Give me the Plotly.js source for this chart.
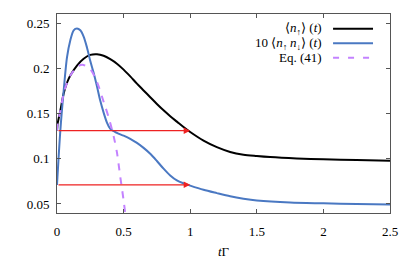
<!DOCTYPE html>
<html>
<head>
<meta charset="utf-8">
<script src="https://cdn.plot.ly/plotly-3.0.1.min.js"></script>
<style>html,body{margin:0;padding:0;background:#fff;}#chart{width:416px;height:260px;}</style>
</head>
<body>
<div id="chart"></div>
<script>
// ---- data ----
const nUpT = [0, 0.005, 0.025, 0.05, 0.075, 0.1, 0.15, 0.2, 0.25, 0.3, 0.35, 0.4, 0.45, 0.5, 0.55, 0.6, 0.65, 0.7, 0.75, 0.8, 0.85, 0.9, 0.95, 1.0, 1.1, 1.2, 1.3, 1.4, 1.5, 1.6, 1.8, 2.0, 2.25, 2.5];
const nUpY = [0.131, 0.139, 0.153, 0.172, 0.184, 0.192, 0.203, 0.2105, 0.2148, 0.2155, 0.2138, 0.2100, 0.2050, 0.1985, 0.1910, 0.1830, 0.1755, 0.1680, 0.1605, 0.1535, 0.1470, 0.1410, 0.1350, 0.1295, 0.1200, 0.1128, 0.1075, 0.1045, 0.1030, 0.1018, 0.1003, 0.0993, 0.0985, 0.0978];

const dblT = [0, 0.025, 0.05, 0.075, 0.1, 0.125, 0.15, 0.175, 0.2, 0.225, 0.25, 0.275, 0.3, 0.325, 0.35, 0.375, 0.4, 0.45, 0.5, 0.55, 0.6, 0.65, 0.7, 0.75, 0.8, 0.85, 0.9, 0.95, 1.0, 1.1, 1.2, 1.3, 1.4, 1.5, 1.75, 2.0, 2.25, 2.5];
const dblY = [0.071, 0.131, 0.175, 0.212, 0.231, 0.242, 0.244, 0.242, 0.235, 0.223, 0.208, 0.195, 0.180, 0.164, 0.151, 0.140, 0.133, 0.1285, 0.1255, 0.122, 0.1175, 0.112, 0.1055, 0.0975, 0.089, 0.0815, 0.0760, 0.0728, 0.0703, 0.0657, 0.0620, 0.0585, 0.0558, 0.0538, 0.0515, 0.0507, 0.0500, 0.0495];

const eqT = [0, 0.005, 0.025, 0.05, 0.075, 0.1, 0.15, 0.19, 0.25, 0.3, 0.35, 0.387, 0.425, 0.45, 0.475, 0.5, 0.52];
const eqY = [0.131, 0.139, 0.153, 0.172, 0.184, 0.192, 0.2015, 0.204, 0.199, 0.185, 0.163, 0.146, 0.125, 0.107, 0.080, 0.054, 0.030];

const arrowLevels = [0.131, 0.0711];
const arrowFrom = 0;
const arrowTo = 1;

const xTicks = [0, 0.5, 1, 1.5, 2, 2.5];
const xTickText = ['0', '0.5', '1', '1.5', '2', '2.5'];
const yTicks = [0.05, 0.1, 0.15, 0.2, 0.25];
const yTickText = ['0.05', '0.1', '0.15', '0.2', '0.25'];

const seriesNames = ['⟨<i>n</i><sub>↑</sub>⟩ (<i>t</i>)', '10 ⟨<i>n</i><sub>↑</sub>\u2009<i>n</i><sub>↓</sub>⟩ (<i>t</i>)', 'Eq. (41)'];
const seriesColors = ['#000000', '#4a78c2', '#c382ff'];

// ---- figure ----
const FONT = 'Liberation Serif';
const traces = [
  {x: nUpT, y: nUpY, mode: 'lines', line: {color: seriesColors[0], width: 2, shape: 'spline', smoothing: 0.8}, name: seriesNames[0], hoverinfo: 'skip'},
  {x: dblT, y: dblY, mode: 'lines', line: {color: seriesColors[1], width: 2, shape: 'spline', smoothing: 0.8}, name: seriesNames[1], hoverinfo: 'skip'},
  {x: eqT, y: eqY, mode: 'lines', line: {color: seriesColors[2], width: 2, dash: '7px,7px', shape: 'spline', smoothing: 0.8}, name: seriesNames[2], hoverinfo: 'skip'}
];

const annotations = arrowLevels.map(v => ({
  x: arrowTo, y: v, ax: arrowFrom, ay: v, xref: 'x', yref: 'y', axref: 'x', ayref: 'y',
  text: '', showarrow: true, arrowhead: 2, arrowsize: 1, arrowwidth: 1.3, arrowcolor: '#ee2222', standoff: 0
}));

// manual legend (text right-aligned, sample line on the right)
const legY = [0.926, 0.853, 0.780];
const shapes = [];
seriesNames.forEach((nm, i) => {
  annotations.push({xref: 'paper', yref: 'paper', x: 0.802, y: legY[i], xanchor: 'right', yanchor: 'middle',
    text: nm, showarrow: false, font: {family: FONT, size: 13, color: '#000'}});
  shapes.push({type: 'line', xref: 'paper', yref: 'paper', x0: 0.829, x1: 0.949, y0: legY[i], y1: legY[i],
    line: {color: seriesColors[i], width: 2, dash: i === 2 ? '6px,9px' : 'solid'}});
});

const axisCommon = {
  showgrid: false, zeroline: false, showline: true, linecolor: '#555', linewidth: 1,
  mirror: 'ticks', ticks: 'inside', ticklen: 4, tickcolor: '#555', tickwidth: 1,
  tickfont: {family: FONT, size: 13, color: '#000'}
};

const layout = {
  width: 416, height: 260,
  margin: {l: 57, r: 26, t: 14, b: 47},
  paper_bgcolor: '#fff', plot_bgcolor: '#fff',
  font: {family: FONT, size: 13, color: '#000'},
  showlegend: false,
  xaxis: Object.assign({}, axisCommon, {range: [0, 2.5], tickvals: xTicks, ticktext: xTickText, ticklabelstandoff: 6,
    title: {text: '<i>t</i>Γ', font: {family: FONT, size: 13, color: '#000'}, standoff: 9}}),
  yaxis: Object.assign({}, axisCommon, {range: [0.04, 0.26], tickvals: yTicks, ticktext: yTickText, ticklabelstandoff: 4}),
  annotations: annotations,
  shapes: shapes
};

Plotly.newPlot('chart', traces, layout, {staticPlot: true, displayModeBar: false});
</script>
</body>
</html>
